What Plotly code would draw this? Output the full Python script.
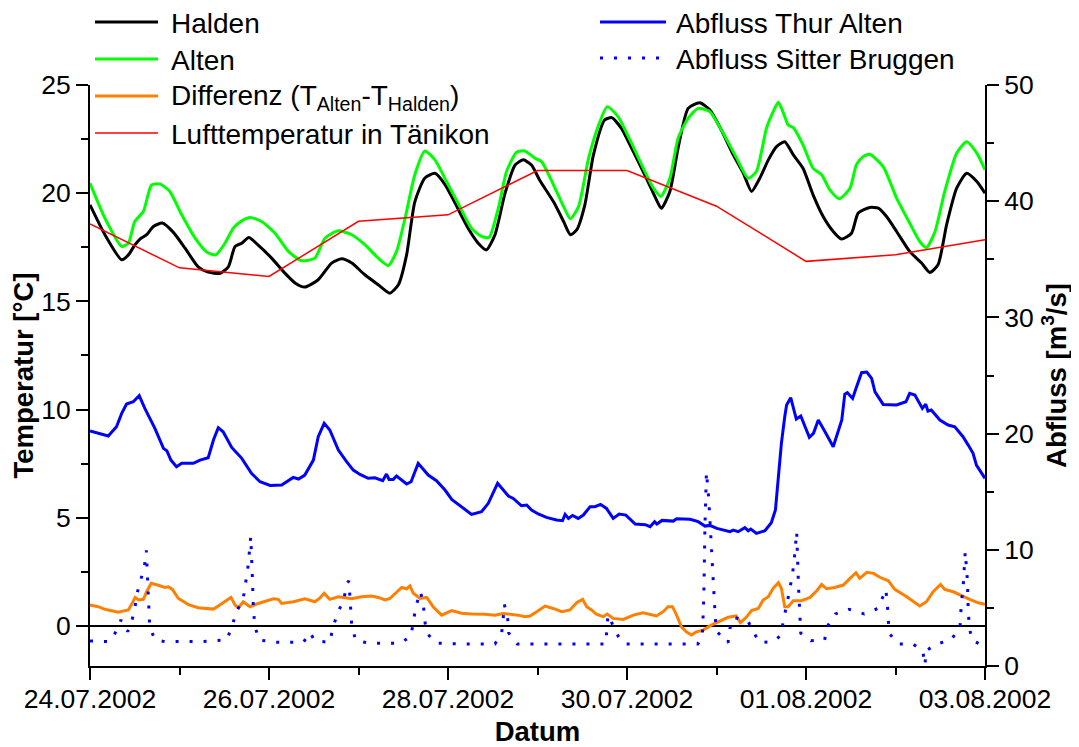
import pandas as pd
import plotly.graph_objects as go

# ---------------- data (hours after 24.07.2002 00:00) ----------------
start = pd.Timestamp("2002-07-24 00:00")

halden_h = [0,4,8.5,10.3,12,13.4,15.2,17,19.4,22.3,25.5,29,31.7,34.9,37.1,38.9,40.7,42.6,45.1,48.7,
            52.3,55,57.6,61.2,64.8,67.5,70.2,73.7,77.3,80.4,82.7,84.9,87.1,89.8,92.5,95.2,97.9,101.4,104.1,106.3,
            108.6,111.3,114,116.2,118.4,120.6,124.3,127,128.8,130.5,132.7,135,138,139.9,142.5,145.7,149.2,151.9,153.2,155.5,
            157.7,160.4,163.5,166.2,169.3,172.5,175.2,177.4,179.6,181.9,184.1,186.3,188.6,191.2,193.9,196.6,199.3,201.5,204.2,206,
            209.1,211.4,213.6,216.3,219.8,223,225.2,227.4,229.7,232.4,235.1,237.8,240]
halden_t = [19.46,18.08,16.92,17.15,17.6,17.88,18.08,18.46,18.62,18.2,17.46,16.6,16.35,16.3,16.6,17.54,17.69,17.95,17.6,17.0,
            16.3,15.85,15.66,16.0,16.77,16.97,16.77,16.23,15.77,15.38,15.77,17.15,19.6,20.7,20.92,20.4,19.54,18.38,17.69,17.38,
            18.08,20.0,21.3,21.54,21.3,20.6,19.6,18.69,18.08,18.3,19.46,21.77,23.38,23.49,23.0,21.92,20.69,19.69,19.3,20.08,
            22.08,23.92,24.18,23.85,22.92,21.77,20.92,20.08,20.69,21.54,22.15,22.38,21.77,21.15,19.92,18.92,18.23,17.88,18.15,19.08,
            19.34,19.31,18.92,18.23,17.31,16.77,16.34,16.69,18.54,20.23,20.92,20.54,20.0]

alten_h = [0,4,8.5,10.3,12,14.3,16.5,18.8,21.4,24.6,28.2,31.3,33.7,36.2,38.4,40.7,42.9,46,49.6,53.2,
           56.7,60.3,63,66.6,70.2,73.7,77.3,80,82.2,84.5,87.1,89.8,92.5,95.6,98.7,102.3,105,107,109.5,111.7,
           114.4,116.6,119.3,121.1,124.3,127,128.8,131,133.7,136.4,138.7,141.6,144.8,148.4,151.1,153.1,155.5,157.7,160.4,163.1,
           166.2,169.8,173.4,176.5,178.7,181.4,183.2,184.6,186.3,187.2,188.6,191.2,193.9,196.2,198.4,200.9,203.8,205.5,207.3,209.1,
           212.7,216.3,219.8,222.5,224.3,226.6,229.2,232.4,235.1,237.8,240]
alten_t = [20.46,18.85,17.54,17.69,18.69,19.15,20.38,20.42,20.08,19.0,17.92,17.28,17.15,17.69,18.38,18.72,18.88,18.69,18.15,17.31,
           16.88,17.0,17.92,18.26,18.08,17.62,17.0,16.66,17.31,18.85,20.85,21.95,21.54,20.54,19.54,18.38,18.0,17.95,19.31,21.0,
           21.89,21.95,21.62,21.46,20.38,19.38,18.82,19.38,21.62,23.15,24.0,23.54,22.46,21.15,20.23,19.85,20.69,22.54,23.46,23.92,
           23.77,22.77,21.62,20.69,21.0,23.0,23.77,24.2,23.54,23.15,23.03,22.23,21.15,20.85,20.15,19.74,20.23,21.31,21.69,21.8,
           21.23,19.77,18.62,17.77,17.49,18.23,20.08,21.85,22.38,21.85,21.08]

diff_h = [0,2.2,4,7.6,9.4,10.3,11.2,12.1,13.1,14.3,15.2,16.4,18.3,20.1,21,22.1,23.7,26.4,29,30.8,
          33.1,34.4,36.2,37.8,38.9,39.8,41.1,42.9,45.1,47.4,49.2,50.5,51.4,54.5,57.6,60.3,61.7,62.8,64.3,66.6,
          68.4,70.2,72.8,75.5,77.3,79.1,80.4,82.2,83.6,84.9,85.8,86.7,88.5,90.3,92,94.3,97,99.6,102.3,105.9,
          108.6,110.8,113,114.8,116.6,118,119.8,122,124.2,126.5,128.7,130.5,132.1,133.2,134.5,135.8,137.6,138.7,140.3,143,
          145.7,148.3,151.9,153.7,155,156.2,157.3,158.6,159.9,161.3,162.6,164.4,166.6,168.9,171.1,173.3,174.4,176,177.4,179.2,
          180.5,181.9,183.2,184.6,185.4,186.3,187.2,188.6,190.8,193.1,194.9,196.2,197.5,199.7,202,203.8,205.4,206.4,208.3,210.1,
          211.8,214.1,215.8,219,222.5,224.3,226.1,228.1,229.2,231.5,233.3,235.9,238.2,240]
diff_t = [0.97,0.89,0.77,0.64,0.71,0.74,1.01,1.32,1.2,1.23,1.58,1.97,1.88,1.78,1.81,1.69,1.27,0.99,0.84,0.81,
          0.78,0.92,1.12,1.32,0.97,0.84,1.12,0.89,1.04,1.15,1.26,1.23,1.04,1.12,1.26,1.12,1.3,1.51,1.23,1.35,
          1.3,1.26,1.35,1.38,1.32,1.2,1.27,1.58,1.78,1.72,1.85,1.51,1.27,1.32,0.89,0.5,0.71,0.59,0.55,0.54,
          0.5,0.58,0.54,0.5,0.43,0.46,0.66,0.92,0.81,0.66,0.74,1.07,1.23,0.89,0.74,0.54,0.43,0.55,0.35,0.3,
          0.5,0.61,0.46,0.66,0.89,0.89,0.5,-0.04,-0.27,-0.42,-0.27,-0.19,0.04,0.24,0.4,0.46,0.15,0.4,0.71,0.81,
          1.2,1.35,1.74,2.0,1.74,0.89,0.89,1.17,1.17,1.32,1.63,1.92,1.72,1.78,1.89,2.2,2.46,2.2,2.48,2.43,
          2.25,2.09,1.69,1.35,0.92,1.12,1.58,1.92,1.69,1.58,1.43,1.23,1.07,1.0]

luft_h = [0,24,48,72,96,120,144,168,192,216,240]
luft_t = [18.58,16.55,16.15,18.7,19.0,21.05,21.05,19.4,16.85,17.15,17.85]

thur_h = [0,4.9,7.1,8.5,9.8,11.6,13.2,14.7,17.4,19.7,20.6,21.7,23.2,24.6,27.7,29.5,31.7,33.1,34.4,35.7,
          38,40.7,43.3,45.6,48.3,51.4,54.5,55.9,57.6,59.9,61.2,62.8,64.3,66.6,68.8,70.6,72.4,74.6,76.4,78.5,
          79.5,80.2,81.3,82.2,84.9,86.1,88,90.7,92.9,95.2,97,99.6,102.3,105,106.8,109.3,112.2,113.5,115.7,117.1,
          118.4,120.2,122.4,125.1,126.7,127.4,128.3,129.4,130.9,132.3,134.1,135.4,136.9,138.5,140.3,141.9,143.7,146.2,148.9,150.2,
          151.4,152,153.4,156.4,157.3,160.9,163.1,164.9,166.2,168.1,171.6,172.5,173.8,175.6,176.5,177.2,178.7,181,182.7,183.8,
          184.5,185.4,186.3,186.8,187.9,189.4,190.6,191.7,192.9,194,195.3,197.1,199.3,201.6,202.4,203.1,204.5,205.4,206.9,208.3,
          209.6,210.5,212.7,216.3,218.8,219.8,221.2,223.2,224.1,224.7,225.6,227.9,230.1,231.9,234.1,235.5,236.8,237.7,240]
thur_q = [20.22,19.79,20.59,21.74,22.54,22.74,23.26,22.17,20.45,18.73,18.53,17.72,17.15,17.44,17.44,17.72,17.92,19.45,20.51,20.16,
          18.81,17.87,16.58,15.86,15.54,15.57,16.23,16.09,16.43,17.72,19.73,20.88,20.31,18.58,17.58,16.86,16.49,16.15,16.2,15.95,
          16.52,16.06,16.06,16.35,15.66,15.86,17.44,16.43,15.95,15.14,14.34,13.71,13.05,13.28,14.0,15.72,14.63,14.42,13.79,13.85,
          13.42,13.08,12.79,12.56,12.5,13.05,12.7,12.96,12.7,12.99,13.71,13.71,13.91,13.56,12.7,13.08,12.99,12.22,12.16,11.99,
          12.42,12.22,12.53,12.47,12.67,12.62,12.42,12.04,12.1,11.84,11.56,11.7,11.56,11.9,11.64,11.79,11.41,11.64,12.33,13.42,
          16.29,19.16,21.45,22.46,23.09,21.25,21.51,20.59,19.67,20.02,21.17,20.16,18.87,21.17,23.4,23.52,23.03,23.89,25.24,25.3,
          24.75,23.6,22.51,22.46,22.74,23.46,23.32,22.17,22.54,21.94,22.03,21.17,20.74,20.59,19.73,19.01,18.3,17.29,16.15]

sitter_h = [0,5,6.5,8.3,10.1,11,12,12.5,13.6,14.6,15.1,15.6,16,17.3,20,30,36.6,38,39.1,41.1,
            41.8,42.3,42.7,43.1,43.5,43.8,44.2,45.3,50,57.2,59,60.3,64.3,65.1,66.3,68.1,68.8,69.4,69.7,69.9,
            70.2,71.3,75.2,83.1,86,86.7,87.3,88.6,89.4,89.7,90.3,92.9,100,108.6,110.4,110.8,111.1,112,112.3,114.6,
            120,138.3,138.9,141.6,143.3,150,163,164.2,164.6,164.9,165.3,165.9,166.5,167.0,167.4,167.7,168.1,171.1,171.6,172.7,
            176.5,178,179.6,183.2,185.4,185.9,186.8,187.7,188.3,188.8,189.2,189.5,190,190.2,190.4,190.6,193.3,197,197.7,199.9,
            203.5,207.6,211.4,213.4,213.8,214,214.3,216.8,220.6,223.3,223.9,224.2,227.1,230.8,233.3,233.6,234.2,234.7,235.1,235.3,
            235.5,235.8,236.4,239.1,240]
sitter_q = [2.16,2.1,2.67,3.96,2.96,3.6,4.88,6.1,7.4,8.6,9.95,5.97,3.45,2.3,2.1,2.1,2.24,3.3,4.54,5.83,
            7.12,8.35,9.7,11.15,8.0,5.0,3.45,2.24,2.04,2.04,2.87,2.16,2.04,3.25,4.48,5.74,7.06,7.32,5.97,4.68,
            3.39,2.18,1.96,1.96,2.53,3.73,5.02,6.4,5.34,4.05,2.82,1.96,1.9,1.9,2.87,4.1,5.31,4.1,2.82,1.9,
            1.9,1.9,4.39,2.59,1.9,1.9,1.9,2.5,6.0,12.0,16.7,14.5,11.0,8.0,5.5,4.0,2.96,2.01,3.25,4.19,
            3.82,2.87,2.01,2.1,2.67,3.96,5.17,6.54,7.75,8.98,10.33,11.56,6.8,5.4,4.1,2.82,2.18,2.24,3.39,4.48,
            4.88,4.48,4.97,6.6,5.4,4.1,2.82,1.9,1.9,1.32,0.09,1.32,1.9,2.24,3.25,5.1,7.1,9.84,8.41,7.26,
            4.68,3.45,2.24,1.81,1.8]

series_names = ["Halden", "Alten", "Differenz (T<sub>Alten</sub>-T<sub>Halden</sub>)",
                "Lufttemperatur in Tänikon", "Abfluss Thur Alten", "Abfluss Sitter Bruggen"]
x_range = ["2002-07-24 00:00", "2002-08-03 00:00"]
x_tick_format = "%d.%m.%Y"
temp_range = [-1.85, 25]
flow_range = [0, 50]


def to_time(hours):
    return [(start + pd.Timedelta(hours=h)).strftime("%Y-%m-%d %H:%M:%S") for h in hours]


FONT = "Liberation Sans, Arial, sans-serif"
BLUE_DOT = "3px,11px"

styles = [
    dict(color="#000000", width=3, shape="spline", smoothing=0.6),
    dict(color="#00FF00", width=3, shape="spline", smoothing=0.6),
    dict(color="#FF8000", width=3),
    dict(color="#FF0000", width=1.5),
    dict(color="#0000FF", width=3),
    dict(color="#0000FF", width=3, dash=BLUE_DOT),
]
series = [(halden_h, halden_t, "y"), (alten_h, alten_t, "y"), (diff_h, diff_t, "y"),
          (luft_h, luft_t, "y"), (thur_h, thur_q, "y2"), (sitter_h, sitter_q, "y2")]

fig = go.Figure()
for (hh, vv, ax), name, st in zip(series, series_names, styles):
    fig.add_trace(go.Scatter(x=to_time(hh), y=vv, name=name, mode="lines", line=st,
                             yaxis=ax, showlegend=False))

# page body has an 8px margin: lay out so the plot lands on the reference pixels
OFF = 8
W, H = 1079 - OFF, 747 - OFF
PL, PR, PT, PB = 90 - OFF, 985 - OFF, 85 - OFF, 666 - OFF


def px_x(p):
    return (p - OFF - PL) / (PR - PL)


def px_y(p):
    return (PB - (p - OFF)) / (PB - PT)


# ---------------- manual legend (reference pixel positions) ----------------
legend_slots = [(95, 158, 169, 22), (95, 158, 169, 59), (95, 158, 169, 96), (95, 158, 169, 133),
                (600, 666, 674, 22), (600, 666, 674, 58)]
annotations = []
for (x0, x1, xt, yy), name, st in zip(legend_slots, series_names, styles):
    fig.add_shape(type="line", xref="paper", yref="paper", x0=px_x(x0), x1=px_x(x1),
                  y0=px_y(yy), y1=px_y(yy),
                  line=dict(color=st["color"], width=st["width"], dash=st.get("dash", "solid")))
    annotations.append(dict(text=name, xref="paper", yref="paper", x=px_x(xt), y=px_y(yy + 1),
                            xanchor="left", yanchor="middle", showarrow=False,
                            font=dict(family=FONT, size=28, color="black")))

axis_common = dict(showline=True, linewidth=2, linecolor="black", ticks="outside", ticklen=12,
                   tickwidth=2, tickcolor="black", showgrid=False,
                   tickfont=dict(family=FONT, size=26.5, color="black"))

fig.update_layout(
    width=W, height=H,
    margin=dict(l=PL, r=W - PR, t=PT, b=H - PB, autoexpand=False),
    paper_bgcolor="white", plot_bgcolor="white",
    font=dict(family=FONT, color="black"),
    showlegend=False,
    annotations=annotations,
    xaxis=dict(**axis_common, type="date", range=x_range,
               tick0=x_range[0], dtick=2 * 86400000, tickformat=x_tick_format,
               ticklabelstandoff=-4,
               minor=dict(dtick=86400000, ticks="outside", ticklen=7, tickwidth=2, tickcolor="black"),
               title=dict(text="Datum", font=dict(family=FONT, size=27.5, weight="bold"), standoff=9)),
    yaxis=dict(**axis_common, range=temp_range, tick0=0, dtick=5,
               minor=dict(dtick=2.5, ticks="outside", ticklen=7, tickwidth=2, tickcolor="black"),
               zeroline=True, zerolinecolor="black", zerolinewidth=2,
               title=dict(text="Temperatur [°C]", font=dict(family=FONT, size=27.5, weight="bold"), standoff=0)),
    yaxis2=dict(**axis_common, overlaying="y", side="right", range=flow_range, tick0=0, dtick=10,
                minor=dict(dtick=5, ticks="outside", ticklen=7, tickwidth=2, tickcolor="black"),
                zeroline=False,
                title=dict(text="Abfluss [m<sup>3</sup>/s]", font=dict(family=FONT, size=27.5, weight="bold"),
                           standoff=14)),
)

fig.write_html("out.html")
